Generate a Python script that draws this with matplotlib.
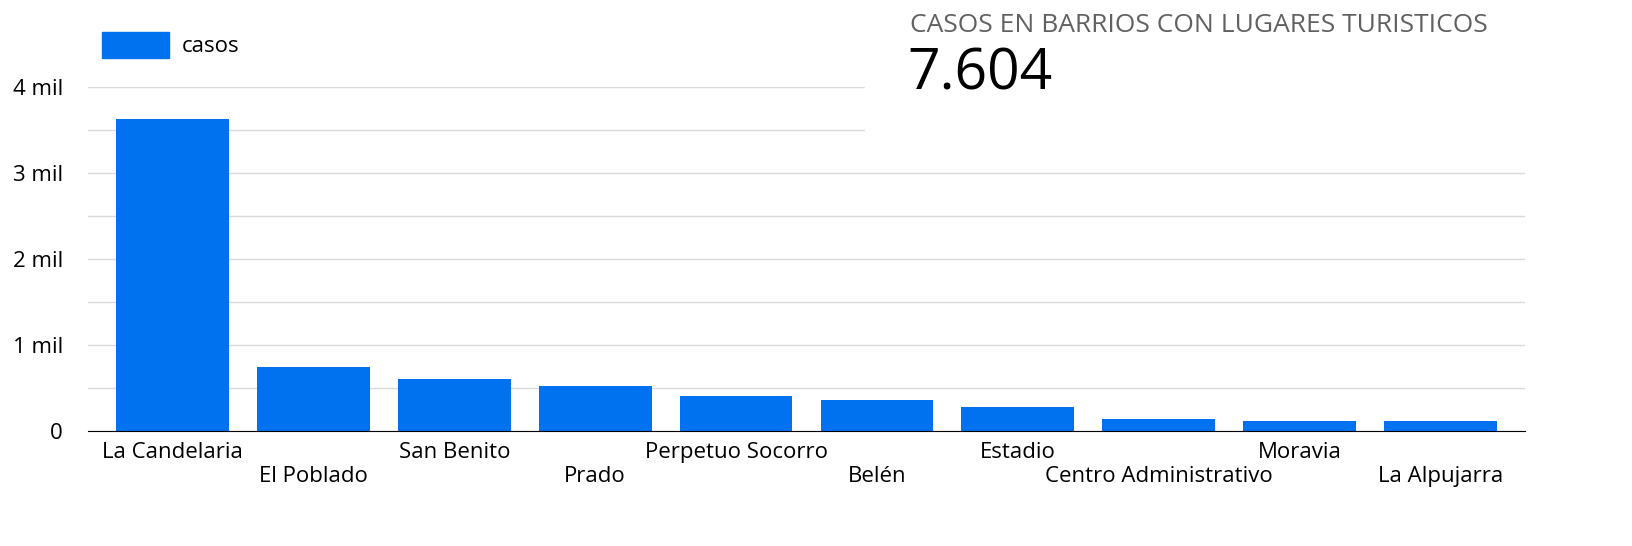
import matplotlib.pyplot as plt
from matplotlib.patches import Rectangle, Patch

barrios = ["La Candelaria", "El Poblado", "San Benito", "Prado", "Perpetuo Socorro",
           "Belén", "Estadio", "Centro Administrativo", "Moravia", "La Alpujarra"]
casos = [3628, 744, 605, 523, 407, 360, 279, 140, 116, 116]
total_label = "7.604"
yticks = [0, 1000, 2000, 3000, 4000]
ytick_labels = ["0", "1 mil", "2 mil", "3 mil", "4 mil"]

plt.rcParams["font.family"] = ["Open Sans", "DejaVu Sans"]
blue = "#0072f0"

fig = plt.figure(figsize=(16.32, 5.46), dpi=100)
ax = fig.add_axes([88 / 1632, 1 - 431 / 546, (1525 - 88) / 1632, (431 - 87) / 546])

x = range(len(barrios))
ax.bar(x, casos, width=0.8, color=blue, zorder=2)
ax.set_xlim(-0.6, len(barrios) - 0.4)
ax.set_ylim(0, 4000)
ax.set_yticks(yticks)
ax.set_yticklabels(ytick_labels, fontsize=16)
ax.set_yticks(range(500, 4000, 1000), minor=True)
ax.grid(axis="y", which="both", color="#d9d9d9", linewidth=1, zorder=0)
ax.tick_params(axis="y", which="both", length=0, pad=18)
ax.set_xticks(list(x))
ax.set_xticklabels([b if i % 2 == 0 else "\n" + b for i, b in enumerate(barrios)], fontsize=16)
ax.tick_params(axis="x", length=0, pad=8)
for s in ["top", "right", "left"]:
    ax.spines[s].set_visible(False)
ax.spines["bottom"].set_color("black")
ax.spines["bottom"].set_zorder(3)

# white box behind the headline number
fig.patches.append(Rectangle((865 / 1632, 1 - 131 / 546), 1, 131 / 546,
                             transform=fig.transFigure, color="white", zorder=5))
fig.text(910 / 1632, 1 - 25 / 546, "CASOS EN BARRIOS CON LUGARES TURISTICOS",
         fontsize=19, color="#616161", va="center", zorder=6)
fig.text(907 / 1632, 1 - 75 / 546, total_label, fontsize=41, color="black",
         va="center", zorder=6)

fig.legend(handles=[Patch(color=blue, label="casos")], loc="center left",
           bbox_to_anchor=(82 / 1632, 1 - 45 / 546), frameon=False, fontsize=16,
           handlelength=3, handleheight=1.4, handletextpad=0.6)

fig.savefig("out.png", dpi=100)
